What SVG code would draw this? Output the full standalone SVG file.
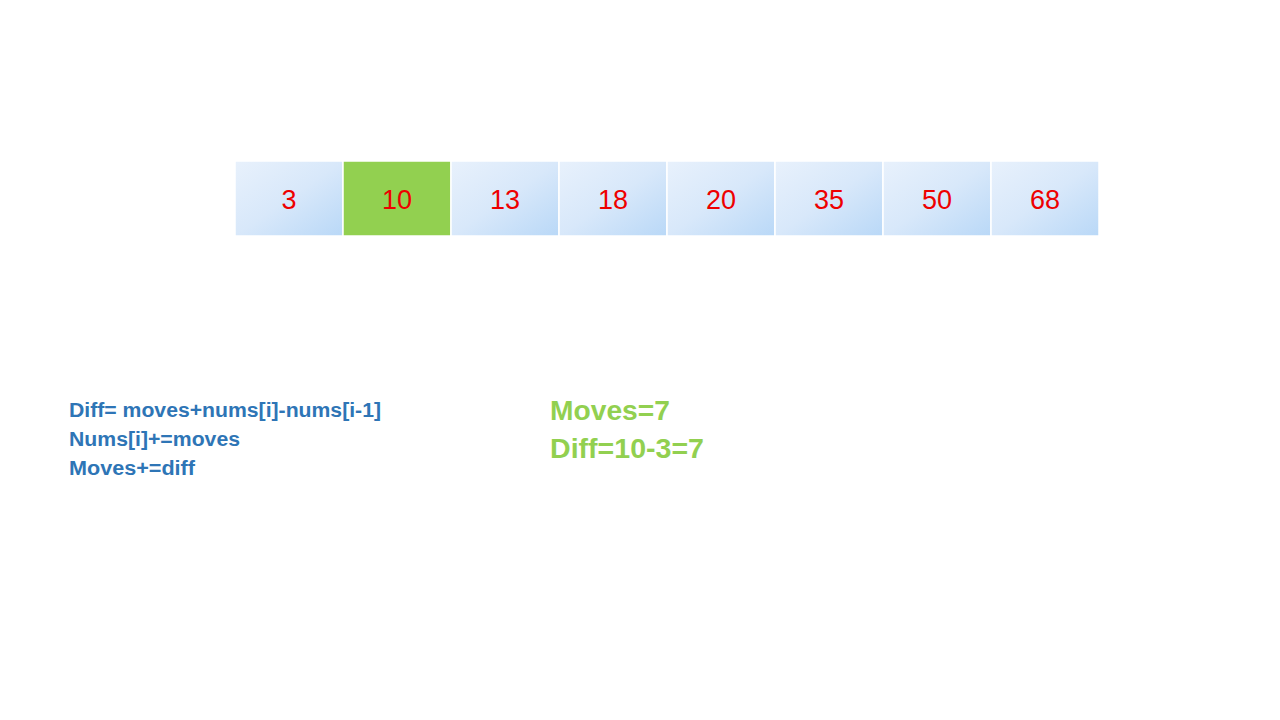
<svg xmlns="http://www.w3.org/2000/svg" width="1280" height="720" viewBox="0 0 1280 720">
<defs>
<linearGradient id="cellGrad" x1="0" y1="0" x2="1" y2="1">
<stop offset="0" stop-color="#e8f1fc"/>
<stop offset="0.5" stop-color="#d8e8fa"/>
<stop offset="1" stop-color="#b9d8f7"/>
</linearGradient>
</defs>
<style>
.cell{fill:url(#cellGrad);stroke:#ffffff;stroke-width:1.5}
.hl{fill:#92d050;stroke:#ffffff;stroke-width:1.5}
.num{font-family:"Liberation Sans","Noto Sans",sans-serif;font-size:27px;fill:#ee0000;text-anchor:middle}
.code{font-family:"Liberation Sans","Noto Sans",sans-serif;font-size:20px;font-weight:bold;fill:#2e75b6}
.note{font-family:"Liberation Sans","Noto Sans",sans-serif;font-size:27px;font-weight:bold;fill:#92d050}
</style>
<rect width="1280" height="720" fill="#ffffff"/>
<g id="array">
<g id="cell0"><rect class="cell" x="235" y="161" width="108" height="75"/><text class="num" x="289" y="209">3</text></g>
<g id="cell1"><rect class="hl" x="343" y="161" width="108" height="75"/><text class="num" x="397" y="209">10</text></g>
<g id="cell2"><rect class="cell" x="451" y="161" width="108" height="75"/><text class="num" x="505" y="209">13</text></g>
<g id="cell3"><rect class="cell" x="559" y="161" width="108" height="75"/><text class="num" x="613" y="209">18</text></g>
<g id="cell4"><rect class="cell" x="667" y="161" width="108" height="75"/><text class="num" x="721" y="209">20</text></g>
<g id="cell5"><rect class="cell" x="775" y="161" width="108" height="75"/><text class="num" x="829" y="209">35</text></g>
<g id="cell6"><rect class="cell" x="883" y="161" width="108" height="75"/><text class="num" x="937" y="209">50</text></g>
<g id="cell7"><rect class="cell" x="991" y="161" width="108" height="75"/><text class="num" x="1045" y="209">68</text></g>
</g>
<g id="formula">
<text class="code" x="69" y="417" textLength="312" lengthAdjust="spacingAndGlyphs">Diff= moves+nums[i]-nums[i-1]</text>
<text class="code" x="69" y="446" textLength="171" lengthAdjust="spacingAndGlyphs">Nums[i]+=moves</text>
<text class="code" x="69" y="475" textLength="126" lengthAdjust="spacingAndGlyphs">Moves+=diff</text>
</g>
<g id="state">
<text class="note" x="550" y="420" textLength="120" lengthAdjust="spacingAndGlyphs">Moves=7</text>
<text class="note" x="550" y="458" textLength="154" lengthAdjust="spacingAndGlyphs">Diff=10-3=7</text>
</g>
</svg>
